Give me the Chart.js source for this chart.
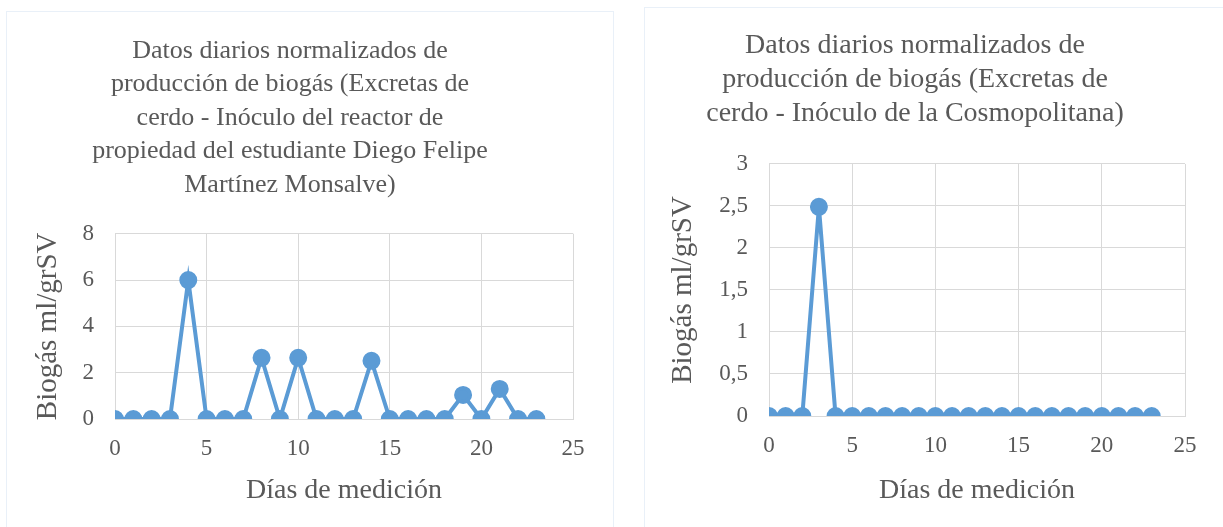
<!DOCTYPE html>
<html>
<head>
<meta charset="utf-8">
<script src="https://cdn.jsdelivr.net/npm/chart.js@4/dist/chart.umd.min.js"></script>
<style>
  body { margin: 0; background: #fff; width: 1223px; height: 527px; overflow: hidden; position: relative; }
  .panel { position: absolute; border: 1px solid #e9f0f8; box-sizing: border-box; background: #fff; }
  #p1 { left: 6px; top: 11px; width: 608px; height: 530px; }
  #p2 { left: 644px; top: 7px; width: 590px; height: 530px; }
  .panel div { position: absolute; left: 0; top: 0; }
</style>
</head>
<body>
<div class="panel" id="p1"><div style="width:607px;height:516px"><canvas id="c1"></canvas></div></div>
<div class="panel" id="p2"><div style="width:578px;height:520px"><canvas id="c2"></canvas></div></div>
<script>
// días de medición
var dias = [0, 1, 2, 3, 4, 5, 6, 7, 8, 9, 10, 11, 12, 13, 14, 15, 16, 17, 18, 19, 20, 21, 22, 23];
// reactor Diego Felipe Martínez Monsalve
var biogasReactor = [0, 0, 0, 0, 6.0, 0, 0, 0, 2.64, 0, 2.64, 0, 0, 0, 2.51, 0, 0, 0, 0, 1.04, 0, 1.3, 0, 0];
// inóculo de la Cosmopolitana
var biogasCosmo = [0, 0, 0, 2.49, 0, 0, 0, 0, 0, 0, 0, 0, 0, 0, 0, 0, 0, 0, 0, 0, 0, 0, 0, 0];

var titulo1 = ["Datos diarios normalizados de", "producción de biogás (Excretas de", "cerdo - Inóculo del reactor de", "propiedad del estudiante Diego Felipe", "Martínez Monsalve)"];
var titulo2 = ["Datos diarios normalizados de", "producción de biogás (Excretas de", "cerdo - Inóculo de la Cosmopolitana)"];

var gris = "#595959";
var azul = "#5b9bd5";
var serif = "Liberation Serif, Times New Roman, serif";

function puntos(ys) {
    return dias.map(function (d, i) { return { x: d, y: ys[i] }; });
}

function grafico(id, ys, titulo, yMax, yStep, conf) {
    var ctx = document.getElementById(id).getContext("2d");
    return new Chart(ctx, {
        type: "scatter",
        data: {
            datasets: [{
                data: puntos(ys),
                showLine: true,
                borderColor: azul,
                backgroundColor: azul,
                borderWidth: 4,
                pointRadius: 7,
                pointHoverRadius: 7
            }]
        },
        options: {
            responsive: true,
            maintainAspectRatio: false,
            animation: false,
            layout: { padding: { left: 0, right: conf.right, top: 0, bottom: 0 } },
            plugins: {
                legend: { display: false },
                tooltip: { enabled: false },
                title: {
                    display: true,
                    text: titulo,
                    color: gris,
                    font: { family: serif, size: conf.tSize, weight: "normal", lineHeight: conf.tLH },
                    padding: { top: conf.tTop, bottom: conf.tBottom }
                }
            },
            scales: {
                x: {
                    min: 0, max: 25,
                    afterFit: function (s) { s.height = conf.xH; },
                    grid: { color: "#d9d9d9", lineWidth: 1, drawTicks: false },
                    border: { color: "#d9d9d9" },
                    ticks: { stepSize: 5, color: gris, padding: 16, font: { family: serif, size: 23 } },
                    title: {
                        display: true, text: "Días de medición", color: gris,
                        font: { family: serif, size: 28, lineHeight: 1.2 },
                        padding: { top: 0, bottom: conf.xtB }
                    }
                },
                y: {
                    min: 0, max: yMax,
                    afterFit: function (s) { s.width = conf.yW; },
                    grid: { color: "#d9d9d9", lineWidth: 1, drawTicks: false },
                    border: { color: "#d9d9d9" },
                    ticks: {
                        stepSize: yStep, color: gris, padding: 21, font: { family: serif, size: 23 },
                        callback: function (v) { return String(v).replace(".", ","); }
                    },
                    title: {
                        display: true, text: "Biogás ml/grSV", color: gris,
                        font: { family: serif, size: 29, lineHeight: 1.2 },
                        padding: { top: conf.ytT, bottom: 0 }
                    }
                }
            }
        }
    });
}

grafico("c1", biogasReactor, titulo1, 8, 2, { right: 41, tSize: 26, tLH: 1.29, tTop: 22, tBottom: 32, xH: 109, xtB: 21, yW: 108, ytT: 24 });
grafico("c2", biogasCosmo, titulo2, 3, 0.5, { right: 38, tSize: 28, tLH: 1.214, tTop: 21, tBottom: 33, xH: 112, xtB: 21, yW: 124, ytT: 21 });
</script>
</body>
</html>
